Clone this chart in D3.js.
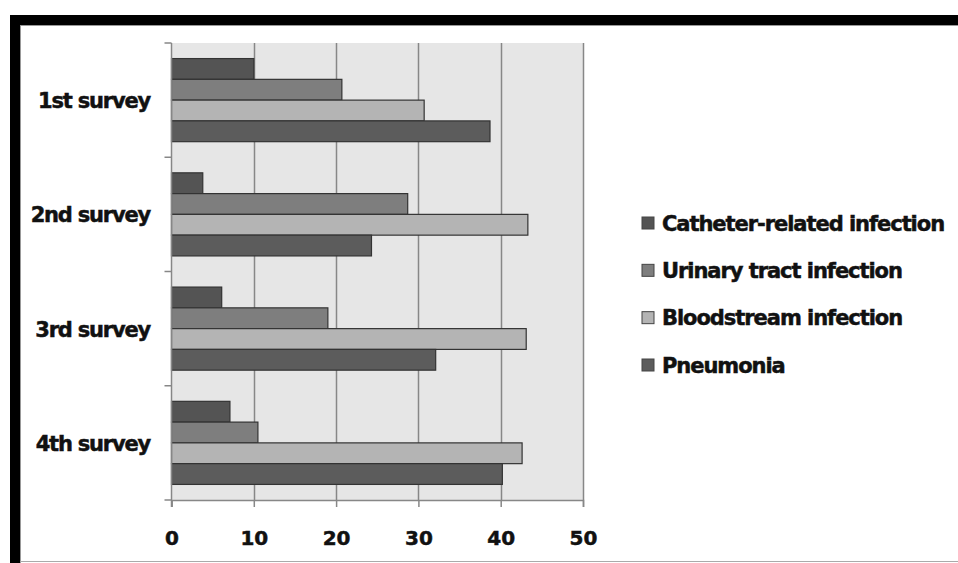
<!DOCTYPE html>
<html><head><meta charset="utf-8">
<script src="https://cdn.jsdelivr.net/npm/d3@7/dist/d3.min.js"></script>
<style>body{margin:0;background:#fff;} svg{display:block;}</style>
</head><body>
<svg id="chart" width="958" height="563"></svg>
<script>
const categories = ["1st survey", "2nd survey", "3rd survey", "4th survey"];
const seriesNames = ["Catheter-related infection", "Urinary tract infection", "Bloodstream infection", "Pneumonia"];
const catheter = [10.0, 3.8, 6.1, 7.1];
const urinary = [20.7, 28.7, 19.0, 10.5];
const bloodstream = [30.7, 43.3, 43.1, 42.6];
const pneumonia = [38.7, 24.3, 32.1, 40.2];
const xTicks = [0, 10, 20, 30, 40, 50];
const seriesColors = ["#545454", "#7e7e7e", "#b4b4b4", "#5c5c5c"];

(function () {
const seriesValues = [catheter, urinary, bloodstream, pneumonia];
const svg = d3.select("#chart");
const FONT = "'DejaVu Sans', Verdana, sans-serif";

// frame
svg.append("rect").attr("x", 10).attr("y", 15).attr("width", 948).attr("height", 10).attr("fill", "#000");
svg.append("rect").attr("x", 10).attr("y", 15).attr("width", 10).attr("height", 548).attr("fill", "#000");
svg.append("line").attr("x1", 20).attr("x2", 958).attr("y1", 25.5).attr("y2", 25.5).attr("stroke", "#999");
svg.append("line").attr("x1", 20.5).attr("x2", 20.5).attr("y1", 25).attr("y2", 563).attr("stroke", "#999");
svg.append("line").attr("x1", 20).attr("x2", 958).attr("y1", 561.5).attr("y2", 561.5).attr("stroke", "#aaa");

const pL = 171.5, pR = 583, pT = 43, pB = 500;
const x = d3.scaleLinear().domain([0, 50]).range([pL, pR]);
const y = d3.scaleBand().domain(categories).range([pT, pB]).paddingInner(0).paddingOuter(0);
const bandInner = y.bandwidth();
const barH = bandInner / 5.5;
const yS = d3.scaleBand().domain(d3.range(4)).range([0.75 * barH, 4.75 * barH]).padding(0);

// background
svg.append("rect").attr("x", pL).attr("y", pT).attr("width", pR - pL).attr("height", pB - pT).attr("fill", "#e6e6e6");

// gridlines
svg.append("g").selectAll("line").data(xTicks.filter(d => d > 0)).join("line")
  .attr("x1", d => Math.round(x(d)) + 0.5).attr("x2", d => Math.round(x(d)) + 0.5)
  .attr("y1", pT).attr("y2", pB)
  .attr("stroke", "#878787").attr("stroke-width", 1.5);

// bars
const groups = svg.append("g").selectAll("g").data(categories).join("g")
  .attr("transform", c => `translate(0,${y(c)})`);
groups.selectAll("rect").data((c, ci) => seriesValues.map((vals, si) => ({si, v: vals[ci]}))).join("rect")
  .attr("x", x(0)).attr("y", d => yS(d.si))
  .attr("width", d => x(d.v) - x(0)).attr("height", yS.bandwidth())
  .attr("fill", d => seriesColors[d.si])
  .attr("stroke", "#333").attr("stroke-width", 1.2);

function heavy(sel) {
  sel.attr("font-family", FONT).attr("font-weight", "bold").attr("fill", "#111")
    .attr("stroke", "#111").attr("stroke-width", 0.5);
}

// x axis
const xAxis = d3.axisBottom(x).tickValues(xTicks).tickSize(7).tickPadding(24).tickFormat(d3.format("d"));
const gx = svg.append("g").attr("transform", `translate(0,${pB})`).call(xAxis);
gx.select(".domain").attr("stroke", "#878787").attr("stroke-width", 1.5);
gx.selectAll(".tick line").attr("stroke", "#878787").attr("stroke-width", 1.5);
gx.selectAll(".tick text").call(heavy).attr("font-size", 20);

// y axis
const yTickVals = [pT, pT + bandInner, pT + 2 * bandInner, pT + 3 * bandInner, pB];
const gy = svg.append("g");
gy.append("line").attr("x1", pL).attr("x2", pL).attr("y1", pT).attr("y2", pB + 7).attr("stroke", "#878787").attr("stroke-width", 1.5);
gy.selectAll("line.t").data(yTickVals).join("line").attr("class", "t")
  .attr("x1", pL - 7).attr("x2", pL).attr("y1", d => d).attr("y2", d => d)
  .attr("stroke", "#878787").attr("stroke-width", 1.5);
gy.selectAll("text").data(categories).join("text")
  .attr("x", 150).attr("y", c => y(c) + bandInner / 2 + 8)
  .attr("text-anchor", "end")
  .call(heavy).attr("font-size", 21).attr("letter-spacing", -1.2)
  .text(c => c);

// legend
const legY = d3.scalePoint().domain(seriesNames).range([223, 365]);
const leg = svg.append("g").selectAll("g").data(seriesNames).join("g")
  .attr("transform", d => `translate(642,${legY(d)})`);
leg.append("rect").attr("x", 0).attr("y", -6).attr("width", 12).attr("height", 12)
  .attr("fill", (d, i) => seriesColors[i]).attr("stroke", "#444").attr("stroke-width", 1);
leg.append("text").attr("x", 20).attr("y", 7.5)
  .call(heavy).attr("font-size", 21).attr("letter-spacing", -1.05)
  .text(d => d);
})();
</script>
</body></html>
